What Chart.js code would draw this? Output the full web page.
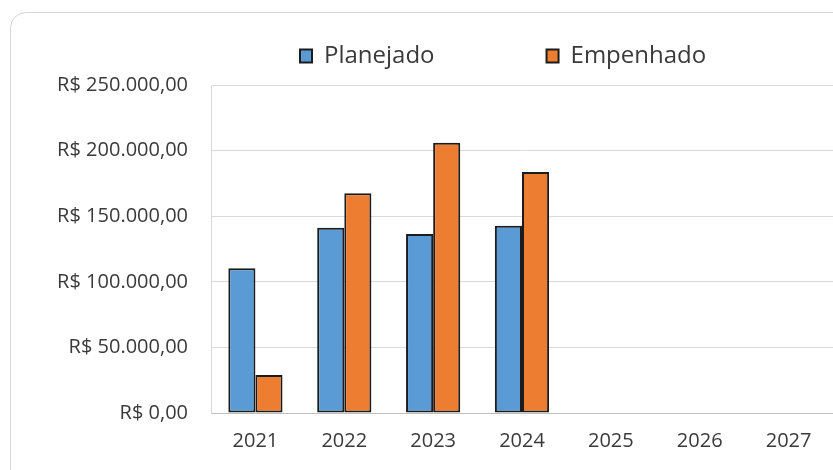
<!DOCTYPE html>
<html>
<head>
<meta charset="utf-8">
<script src="https://cdn.jsdelivr.net/npm/chart.js@4"></script>
<style>
  html, body { margin: 0; padding: 0; background: #fff; overflow: hidden; }
  #wrap { position: relative; width: 833px; height: 470px; }
  #frame {
    position: absolute; left: 10px; top: 12px; width: 900px; height: 600px;
    border: 1px solid #d6d6d6; border-radius: 16px; box-sizing: border-box;
  }
  #chart { position: absolute; left: 0; top: 0; }
</style>
</head>
<body>
<div id="wrap">
  <div id="frame"></div>
  <canvas id="chart" width="833" height="470"></canvas>
</div>
<script>
const years = ['2021', '2022', '2023', '2024', '2025', '2026', '2027']
const planejado = [110300, 141200, 136400, 142800, null, null, null]
const empenhado = [29000, 167400, 206000, 183700, null, null, null]
const yMax = 250000
const yStep = 50000

// R$ 250.000,00
function brl(v) {
    const parts = Number(v).toFixed(2).split('.')
    const int = parts[0].replace(/\B(?=(\d{3})+(?!\d))/g, '.')
    return 'R$ ' + int + ',' + parts[1]
}

const FONT = "'Open Sans', sans-serif"
const TEXT = '#3a3a3a'
const LEGEND_GAP = 112

// legend sits above the plot: fix its height so the plot starts where Excel put it,
// and start the first item where the original one starts
const legendPlace = {
    id: 'legendPlace',
    beforeInit(chart) {
        const origFit = chart.legend.fit
        chart.legend.fit = function () {
            origFit.bind(chart.legend)()
            this.height = 153
        }
    },
    afterLayout(chart) {
        chart.legend.left = 300 - LEGEND_GAP
    }
}

new Chart(document.getElementById('chart'), {
    type: 'bar',
    data: {
        labels: years,
        datasets: [
            {
                label: 'Planejado',
                data: planejado,
                backgroundColor: '#5B9BD5',
                borderColor: '#1c1c1c',
                borderWidth: 2,
                borderSkipped: false
            },
            {
                label: 'Empenhado',
                data: empenhado,
                backgroundColor: '#ED7D31',
                borderColor: '#1c1c1c',
                borderWidth: 2,
                borderSkipped: false
            }
        ]
    },
    options: {
        responsive: false,
        animation: false,
        devicePixelRatio: 1,
        layout: { padding: { top: -68, left: 0, right: 0, bottom: 0 } },
        datasets: {
            bar: { categoryPercentage: 0.61, barPercentage: 1.0 }
        },
        plugins: {
            tooltip: { enabled: false },
            legend: {
                position: 'top',
                align: 'start',
                labels: {
                    color: TEXT,
                    font: { family: FONT, size: 24 },
                    boxWidth: 12,
                    boxHeight: 13,
                    padding: LEGEND_GAP
                }
            }
        },
        scales: {
            x: {
                grid: { display: false, drawTicks: false },
                border: { color: '#bfbfbf', width: 1 },
                ticks: { color: TEXT, font: { family: FONT, size: 20 }, padding: 16 },
                afterFit(scale) { scale.height = 57 }
            },
            y: {
                min: 0,
                max: yMax,
                grid: { color: '#d9d9d9', drawTicks: false },
                border: { color: '#d9d9d9' },
                ticks: {
                    stepSize: yStep,
                    color: TEXT,
                    font: { family: FONT, size: 20 },
                    padding: 23,
                    callback: v => brl(v)
                },
                afterFit(scale) { scale.width = 211 }
            }
        }
    },
    plugins: [legendPlace]
})
</script>
</body>
</html>
